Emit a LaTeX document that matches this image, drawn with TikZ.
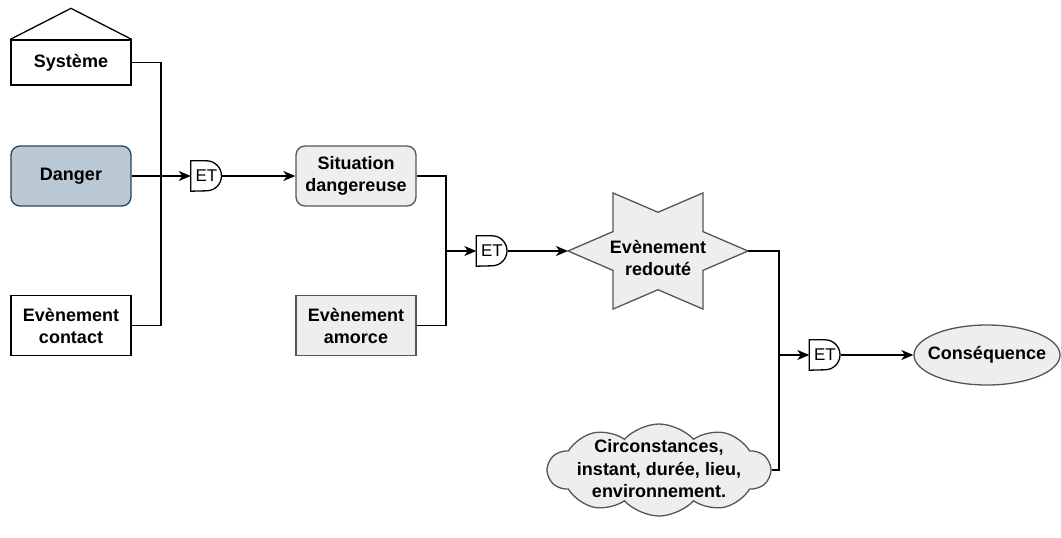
\documentclass[tikz,border=0pt]{standalone}
\usepackage{fontspec}
\setmainfont{Liberation Sans}
\usetikzlibrary{arrows.meta,shapes.geometric,shapes.symbols}
\definecolor{dangerfill}{HTML}{BAC8D3}
\definecolor{dangerline}{HTML}{23445D}
\definecolor{greyfill}{HTML}{EEEEEE}
\definecolor{greyline}{HTML}{555555}
\tikzstyle{box}=[rectangle,draw=black,line width=1.3pt,minimum width=120pt,minimum height=60pt,align=center,font=\fontsize{18}{22}\selectfont\bfseries]
\tikzstyle{dangerbox}=[box,rounded corners=9pt,draw=dangerline,fill=dangerfill]
\tikzstyle{greybox}=[box,draw=greyline,fill=greyfill]
\tikzstyle{label}=[align=center,font=\fontsize{18}{22.5}\selectfont\bfseries]
\tikzstyle{gate}=[minimum width=31pt,minimum height=30pt,inner sep=0pt,font=\fontsize{17}{20}\selectfont]
\tikzstyle{link}=[line width=1.3pt]
\tikzstyle{greyshape}=[draw=greyline,fill=greyfill,line width=1.3pt]

\begin{document}
\begin{tikzpicture}[x=1pt,y=1pt,>={Stealth[length=12pt,width=10pt,inset=3.5pt]}]
        \useasboundingbox (0,0) rectangle (1061,-538);

        \node at (71,-62.5) [box,minimum height=45pt] (sys)  {Système};
        \node at (71,-176)  [dangerbox]               (dan)  {Danger};
        \node at (71,-325.5)[box]                     (cont) {Evènement\\contact};
        \draw [link] (sys.north west) -- ([yshift=31pt]sys.north) -- (sys.north east);

        \node at (356,-176)   [greybox,rounded corners=9pt] (sit) {Situation\\dangereuse};
        \node at (356,-325.5) [greybox]                     (am)  {Evènement\\amorce};

        \node at (206.5,-176) [gate] (g1) {ET};
        \node at (492,-251)   [gate] (g2) {ET};
        \node at (825,-355)   [gate] (g3) {ET};
        \foreach \g in {g1,g2,g3}
          \draw [link] (\g.north west) -- (\g.north) arc[start angle=90,end angle=-90,radius=15pt] -- (\g.south west) -- cycle;

        % evenement redoute
        \begin{scope}[shift={(658,-251)},yscale=0.745]
          \draw [greyshape] (0:90) \foreach \a in {30,90,...,330} {-- (\a:52) -- ({\a+30}:90)} -- cycle;
        \end{scope}
        \node at (658,-258) [label] (red) {Evènement\\redouté};
        \coordinate (redL) at (568,-251);
        \coordinate (redR) at (748,-251);

        \node at (659,-470) [cloud,cloud puffs=10,cloud puff arc=95,aspect=2.2,greyshape,minimum width=222pt,minimum height=92pt] (cloud) {};
        \node at (659,-469) [label] (circ) {Circonstances,\\instant, durée, lieu,\\environnement.};

        \node at (987,-355) [ellipse,greyshape,minimum width=146pt,minimum height=60pt,inner xsep=-14pt,inner ysep=0pt,label] (cons) {Conséquence};

        \coordinate (j1) at (161,-176);
        \coordinate (j2) at (446,-251);
        \coordinate (j3) at (779,-355);

        \draw [link] (sys.east) -| (j1);
        \draw [link] (cont.east) -| (j1);
        \draw [link,->] (dan) -- (g1);
        \draw [link,->] (g1) -- (sit);

        \draw [link] (sit.east) -| (j2);
        \draw [link] (am.east) -| (j2);
        \draw [link,->] (j2) -- (g2);
        \draw [link,->] (g2) -- (redL);

        \draw [link] (redR) -| (j3);
        \draw [link] (cloud.east) -| (j3);
        \draw [link,->] (j3) -- (g3);
        \draw [link,->] (g3) -- (cons);
      \end{tikzpicture}
\end{document}
